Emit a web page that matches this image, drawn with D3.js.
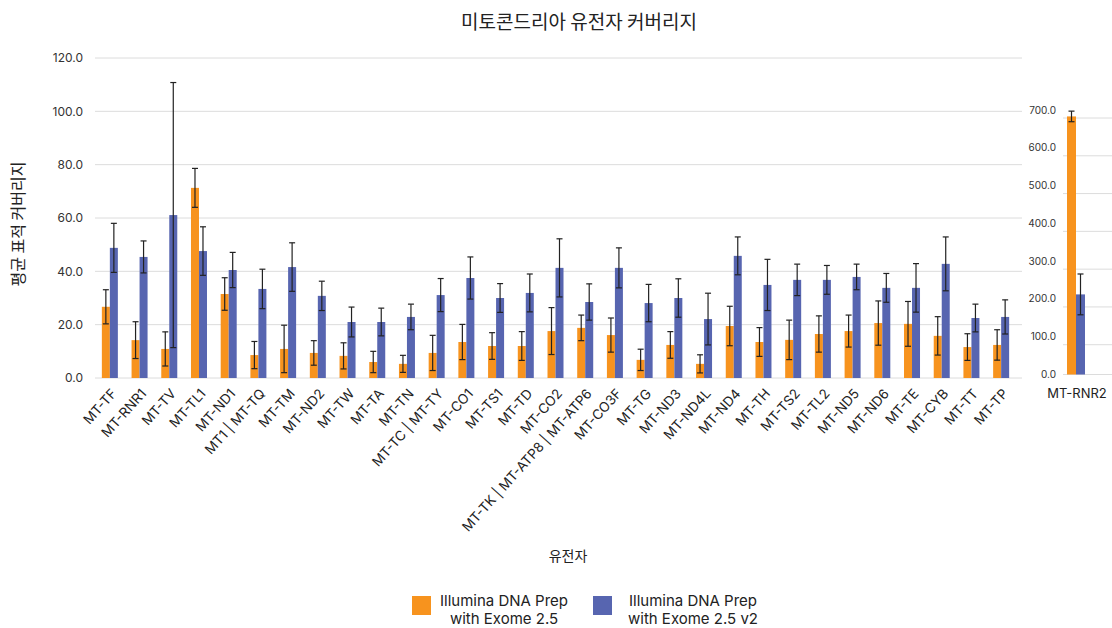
<!DOCTYPE html>
<html>
<head>
<meta charset="utf-8">
<script src="https://cdn.jsdelivr.net/npm/d3@7"></script>
<style>
  html, body { margin: 0; padding: 0; background: #fff; }
  svg { display: block; font-family: Inter, "Noto Sans CJK KR", "Noto Sans", sans-serif; }
</style>
</head>
<body>
<svg id="chart" width="1112" height="628"></svg>
<script>
// Mitochondrial gene coverage: two library preps, mean ± SD
const genes = ["MT-TF","MT-RNR1","MT-TV","MT-TL1","MT-ND1","MT1 | MT-TQ","MT-TM","MT-ND2","MT-TW","MT-TA",
  "MT-TN","MT-TC | MT-TY","MT-CO1","MT-TS1","MT-TD","MT-CO2","MT-TK | MT-ATP8 | MT-ATP6","MT-CO3F","MT-TG","MT-ND3",
  "MT-ND4L","MT-ND4","MT-TH","MT-TS2","MT-TL2","MT-ND5","MT-ND6","MT-TE","MT-CYB","MT-TT","MT-TP"];
const prepA = [26.7,14.2,10.9,71.3,31.5,8.6,10.9,9.4,8.3,6.0,
  5.3,9.4,13.5,12.0,12.0,17.6,18.8,16.1,6.8,12.4,
  5.3,19.5,13.5,14.3,16.5,17.6,20.6,20.3,15.8,11.6,12.4];
const prepAErr = [6.4,6.9,6.4,7.3,6.1,5.1,8.9,4.6,4.9,4.0,
  3.2,6.6,6.6,5.0,5.4,8.8,4.8,6.4,4.0,5.0,
  3.4,7.4,5.4,7.4,6.8,6.0,8.3,8.4,7.2,5.0,5.7];
const prepB = [48.8,45.4,61.1,47.6,40.5,33.4,41.6,30.8,21.0,21.0,
  22.9,31.1,37.5,30.0,31.9,41.3,28.5,41.3,28.1,30.0,
  22.1,45.8,34.9,36.8,36.8,37.9,33.8,33.8,42.8,22.5,22.9];
const prepBErr = [9.2,6.0,49.7,9.1,6.6,7.4,9.1,5.5,5.6,5.2,
  4.8,6.2,7.9,5.4,7.1,10.9,6.8,7.5,7.0,7.2,
  9.7,7.1,9.6,5.9,5.4,4.8,5.4,9.1,10.1,5.2,6.4];
const yTicks = [0,20,40,60,80,100,120];

// MT-RNR2 sits on its own, much larger scale
const sideGene = ["MT-RNR2"];
const sideA = [683], sideAErr = [14];
const sideB = [212], sideBErr = [54];
const sideTicks = [0,100,200,300,400,500,600,700];

const seriesNames = ["Illumina DNA Prep\nwith Exome 2.5", "Illumina DNA Prep\nwith Exome 2.5 v2"];
const colors = ["#F7931E", "#5765B0"];

const svg = d3.select("#chart");
const grid = "#dcdcdc", text = "#333";

// ---------- main panel ----------
const x = d3.scaleBand().domain(genes).range([95, 1016]);
const y = d3.scaleLinear().domain([0, 120]).range([378, 58]);
const bw = 8;

svg.append("g").selectAll("line").data(yTicks).join("line")
  .attr("x1", 95).attr("x2", 1022)
  .attr("y1", d => y(d)).attr("y2", d => y(d))
  .attr("stroke", grid).attr("stroke-width", 1);

svg.append("g").selectAll("text").data(yTicks).join("text")
  .attr("x", 83).attr("y", d => y(d)).attr("dy", "0.35em")
  .attr("text-anchor", "end").attr("font-size", 12).attr("fill", text)
  .text(d => d.toFixed(1));

function drawSeries(g, cats, xs, ys, vals, errs, offset, color, w) {
  g.append("g").selectAll("rect").data(cats).join("rect")
    .attr("x", (d, i) => xs(d) + xs.bandwidth() / 2 + offset)
    .attr("y", (d, i) => ys(vals[i]))
    .attr("width", w)
    .attr("height", (d, i) => ys(0) - ys(vals[i]))
    .attr("fill", color);
  const eb = g.append("g").attr("stroke", "#222").attr("stroke-width", 1.2);
  cats.forEach((d, i) => {
    const cx = xs(d) + xs.bandwidth() / 2 + offset + w / 2;
    const top = ys(vals[i] + errs[i]), bot = ys(Math.max(0, vals[i] - errs[i]));
    eb.append("line").attr("x1", cx).attr("x2", cx).attr("y1", top).attr("y2", bot);
    eb.append("line").attr("x1", cx - 3).attr("x2", cx + 3).attr("y1", top).attr("y2", top);
    eb.append("line").attr("x1", cx - 3).attr("x2", cx + 3).attr("y1", bot).attr("y2", bot);
  });
}

const main = svg.append("g");
drawSeries(main, genes, x, y, prepA, prepAErr, -bw, colors[0], bw);
drawSeries(main, genes, x, y, prepB, prepBErr, 0, colors[1], bw);

svg.append("g").selectAll("text").data(genes).join("text")
  .attr("transform", d => `translate(${x(d) + x.bandwidth() / 2 + 4},${391}) rotate(-48)`)
  .attr("text-anchor", "end").attr("dy", "0.35em")
  .attr("font-size", 13.5).attr("fill", "#222")
  .text(d => d);

// ---------- side panel ----------
const xs2 = d3.scaleBand().domain(sideGene).range([1063, 1089]);
const y2 = d3.scaleLinear().domain([0, 700]).range([374.5, 110]);
const bw2 = 9;

svg.append("g").selectAll("line").data(sideTicks).join("line")
  .attr("x1", 1063).attr("x2", 1112)
  .attr("y1", d => d === 0 ? y2(d) : y2(d) + 8).attr("y2", d => d === 0 ? y2(d) : y2(d) + 8)
  .attr("stroke", grid).attr("stroke-width", 1);

svg.append("g").selectAll("text").data(sideTicks).join("text")
  .attr("x", 1056).attr("y", d => y2(d)).attr("dy", "0.35em")
  .attr("text-anchor", "end").attr("font-size", 10).attr("fill", text)
  .text(d => d.toFixed(1));

const side = svg.append("g");
drawSeries(side, sideGene, xs2, y2, sideA, sideAErr, -bw2, colors[0], bw2);
drawSeries(side, sideGene, xs2, y2, sideB, sideBErr, 0, colors[1], bw2);

svg.append("text").attr("x", 1077).attr("y", 393).attr("dy", "0.35em")
  .attr("text-anchor", "middle").attr("font-size", 13).attr("fill", "#222")
  .text(sideGene[0]);

// ---------- titles ----------
svg.append("text").attr("x", 579).attr("y", 22).attr("dy", "0.35em")
  .attr("text-anchor", "middle").attr("font-size", 19).attr("fill", "#222")
  .attr("font-family", "'Noto Sans CJK KR', sans-serif")
  .text("미토콘드리아 유전자 커버리지");

svg.append("text").attr("transform", "translate(18,224) rotate(-90)").attr("dy", "0.35em")
  .attr("text-anchor", "middle").attr("font-size", 16).attr("fill", "#222")
  .attr("font-family", "'Noto Sans CJK KR', sans-serif")
  .text("평균 표적 커버리지");

svg.append("text").attr("x", 568).attr("y", 556).attr("dy", "0.35em")
  .attr("text-anchor", "middle").attr("font-size", 14).attr("fill", "#222")
  .attr("font-family", "'Noto Sans CJK KR', sans-serif")
  .text("유전자");

// ---------- legend ----------
const legendX = [412, 593], legendTextX = [504, 693];
const legend = svg.append("g");
seriesNames.forEach((name, i) => {
  legend.append("rect").attr("x", legendX[i]).attr("y", 596).attr("width", 19).attr("height", 19)
    .attr("fill", colors[i]);
  const t = legend.append("text").attr("text-anchor", "middle").attr("font-size", 15).attr("fill", "#222");
  name.split("\n").forEach((line, j) => {
    t.append("tspan").attr("x", legendTextX[i]).attr("y", 601 + j * 18).attr("dy", "0.35em").text(line);
  });
});
</script>
</body>
</html>
